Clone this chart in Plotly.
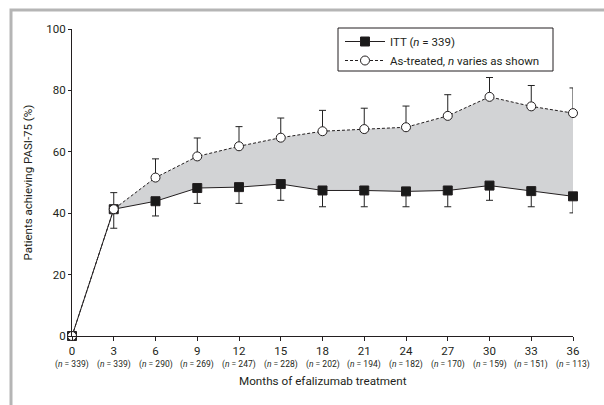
import plotly.graph_objects as go

months = [0, 3, 6, 9, 12, 15, 18, 21, 24, 27, 30, 33, 36]
n_labels = [339, 339, 290, 269, 247, 228, 202, 194, 182, 170, 159, 151, 113]
itt = [0, 41.3, 43.9, 48.2, 48.5, 49.5, 47.4, 47.4, 47.1, 47.4, 49.0, 47.2, 45.5]
itt_err_low = [0, 6.2, 4.8, 5.0, 5.3, 5.3, 5.3, 5.3, 5.0, 5.3, 4.8, 5.1, 5.4]
as_treated = [0, 41.3, 51.6, 58.5, 61.8, 64.6, 66.7, 67.4, 68.0, 71.7, 77.9, 74.8, 72.6]
at_err_up = [0, 5.4, 6.1, 6.0, 6.4, 6.4, 6.8, 6.8, 6.9, 6.9, 6.3, 6.8, 8.2]
y_ticks = [0, 20, 40, 60, 80, 100]

FONT = "Roboto, Liberation Sans, sans-serif"
INK = "#231f20"

PW, PH = 501, 307  # plot area in px
def px_x(p):  # pixel offset from plot left -> paper
    return p / PW
def px_y(p):  # pixel offset from plot bottom -> paper
    return p / PH

fig = go.Figure()
# shaded band between the curves (no legend)
fig.add_trace(go.Scatter(x=months, y=itt, mode="lines", line=dict(width=0), showlegend=False,
                         hoverinfo="skip"))
fig.add_trace(go.Scatter(x=months, y=as_treated, mode="lines", line=dict(width=0), fill="tonexty",
                         fillcolor="#d2d3d5", showlegend=False, hoverinfo="skip"))

fig.add_trace(go.Scatter(
    x=months, y=itt, mode="lines+markers", name="ITT (<i>n</i> = 339)",
    line=dict(color=INK, width=1),
    marker=dict(symbol="square", size=9, color="#1a1a1a", line=dict(color=INK, width=1)),
    error_y=dict(type="data", symmetric=False, array=[0]*len(months), arrayminus=itt_err_low,
                 color="#222", thickness=1, width=3.5),
    cliponaxis=False,
))
fig.add_trace(go.Scatter(
    x=months, y=as_treated, mode="lines+markers", name="As-treated, <i>n</i> varies as shown",
    line=dict(color=INK, width=1, dash="3px,2px"),
    marker=dict(symbol="circle", size=9, color="white", line=dict(color=INK, width=1)),
    error_y=dict(type="data", symmetric=False, array=at_err_up, arrayminus=[0]*len(months),
                 color="#222", thickness=1, width=3.5),
    cliponaxis=False,
))

annotations = [
    dict(text="Months of efalizumab treatment", xref="paper", yref="paper", x=0.5, y=0,
         yshift=-45, xanchor="center", yanchor="middle", showarrow=False, font=dict(size=11.7)),
    dict(text="Patients achieving PASI-75 (%)", xref="paper", yref="paper", x=0, y=0.5,
         xshift=-45, xanchor="center", yanchor="middle", textangle=-90, showarrow=False,
         font=dict(size=11.5)),
]
for m, n in zip(months, n_labels):
    annotations.append(dict(text=f"(<i>n</i> = {n})", x=m, xref="x", yref="paper", y=0,
                            yshift=-28, xanchor="center", yanchor="middle", showarrow=False,
                            font=dict(size=8.5)))

fig.update_layout(
    width=604, height=405,
    margin=dict(l=72, r=31, t=29, b=69),
    paper_bgcolor="white", plot_bgcolor="white",
    font=dict(family=FONT, size=11, color=INK),
    showlegend=True,
    legend=dict(x=px_x(338 - 72 + 2), y=1 + px_y(2), xanchor="left", yanchor="top",
                bgcolor="rgba(0,0,0,0)", borderwidth=0, traceorder="normal",
                font=dict(size=11.5), tracegroupgap=0, itemwidth=40),
    xaxis=dict(range=[0, 36], tickvals=months, showgrid=False, zeroline=False,
               showline=True, linecolor=INK, linewidth=1, ticks="outside", ticklen=4,
               tickcolor=INK, tickfont=dict(size=11.5)),
    yaxis=dict(range=[0, 100], tickvals=y_ticks, showgrid=False, zeroline=False,
               showline=True, linecolor=INK, linewidth=1, ticks="outside", ticklen=3,
               tickcolor=INK, tickfont=dict(size=11.5)),
    annotations=annotations,
    shapes=[
        dict(type="rect", xref="paper", yref="paper", x0=px_x(338 - 72), x1=px_x(553 - 72),
             y0=1 - px_y(71 - 29), y1=1 + px_y(29 - 28),
             line=dict(color=INK, width=1), fillcolor="white", layer="above"),
        dict(type="rect", xref="paper", yref="paper", x0=-px_x(72 - 11), x1=1.2, y0=-0.3,
             y1=1 + px_y(29 - 10), line=dict(color="#b5b5b5", width=3),
             fillcolor="rgba(0,0,0,0)", layer="below"),
    ],
)

fig.write_html("out.html", config={"displayModeBar": False},
               post_script="document.body.style.margin='0px';")
